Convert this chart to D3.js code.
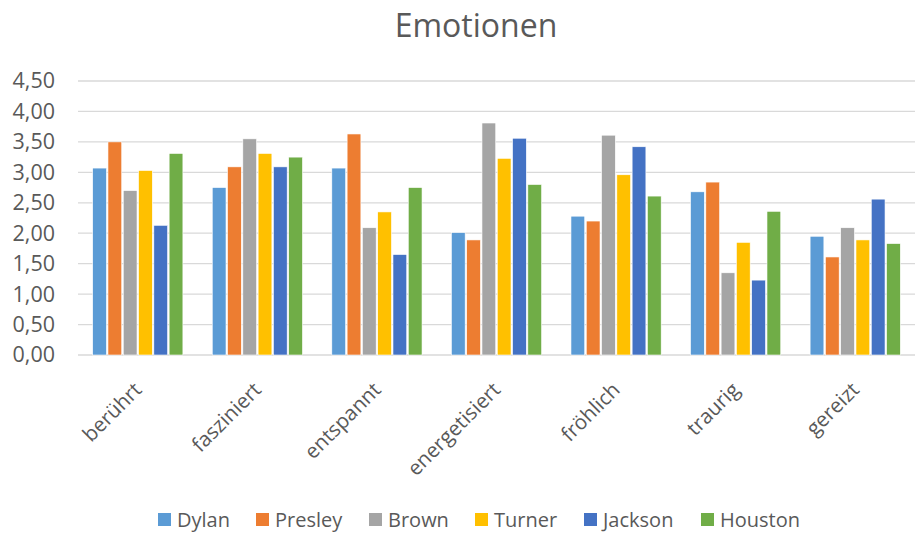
<!DOCTYPE html>
<html>
<head>
<meta charset="utf-8">
<script src="https://cdn.jsdelivr.net/npm/d3@7"></script>
<style>
  body { margin: 0; background: #fff; }
  text { font-family: "Open Sans", sans-serif; fill: #595959; }
</style>
</head>
<body>
<svg id="chart" width="919" height="533"></svg>
<script>
let categories = ["berührt", "fasziniert", "entspannt", "energetisiert", "fröhlich", "traurig", "gereizt"]
let seriesNames = ["Dylan", "Presley", "Brown", "Turner", "Jackson", "Houston"]
let colors = ["#5B9BD5", "#ED7D31", "#A5A5A5", "#FFC000", "#4472C4", "#70AD47"]

let dylan = [3.07, 2.75, 3.07, 2.01, 2.28, 2.68, 1.95]
let presley = [3.50, 3.09, 3.63, 1.89, 2.20, 2.84, 1.61]
let brown = [2.70, 3.55, 2.09, 3.81, 3.61, 1.35, 2.09]
let turner = [3.03, 3.31, 2.35, 3.23, 2.96, 1.85, 1.89]
let jackson = [2.13, 3.09, 1.65, 3.56, 3.42, 1.23, 2.56]
let houston = [3.31, 3.25, 2.75, 2.80, 2.61, 2.36, 1.83]
let yTicks = [0, 0.5, 1, 1.5, 2, 2.5, 3, 3.5, 4, 4.5]

let values = [dylan, presley, brown, turner, jackson, houston]

let svg = d3.select("#chart")

let x0 = d3.scaleBand().domain(categories).range([78, 915]).paddingInner(0.22).paddingOuter(0.11)
let x1 = d3.scaleBand().domain(seriesNames).range([0, x0.bandwidth()]).padding(0.1)
let y = d3.scaleLinear().domain([0, 4.5]).range([355, 81])

let fmt = d => d.toFixed(2).replace(".", ",")

// title
svg.append("text")
    .attr("x", 476)
    .attr("y", 37)
    .attr("text-anchor", "middle")
    .attr("font-size", 32)
    .text("Emotionen")

// gridlines
svg.append("g")
    .selectAll("line")
    .data(yTicks)
    .join("line")
    .attr("x1", 78)
    .attr("x2", 915)
    .attr("y1", d => y(d))
    .attr("y2", d => y(d))
    .attr("stroke", "#D9D9D9")
    .attr("stroke-width", 1.3)

// y axis
let axisL = d3.axisLeft(y)
    .tickValues(yTicks)
    .tickFormat(fmt)
    .tickSize(0)
    .tickPadding(0)

let gy = svg.append("g")
    .attr("transform", "translate(55,0)")
    .call(axisL)
gy.select(".domain").remove()
gy.selectAll("text")
    .attr("font-size", 21.5)
    .style("font-family", "'Open Sans', sans-serif")
    .attr("fill", "#595959")

// bars
svg.append("g")
    .selectAll("g")
    .data(values)
    .join("g")
    .attr("fill", (d, i) => colors[i])
    .selectAll("rect")
    .data((d, i) => d.map((v, j) => ({ s: seriesNames[i], c: categories[j], v: v })))
    .join("rect")
    .attr("x", d => x0(d.c) + x1(d.s))
    .attr("width", x1.bandwidth())
    .attr("y", d => y(d.v))
    .attr("height", d => y(0) - y(d.v))
    .attr("stroke", "#fff")
    .attr("stroke-width", 0.6)

// category labels
let axisB = d3.axisBottom(x0).tickSize(0).tickPadding(0)
let gx = svg.append("g")
    .attr("transform", "translate(0,367)")
    .call(axisB)
gx.select(".domain").remove()
gx.selectAll("text")
    .attr("font-size", 20.5)
    .style("font-family", "'Open Sans', sans-serif")
    .attr("fill", "#595959")
    .attr("text-anchor", "end")
    .attr("dy", "0.7em")
    .attr("transform", "translate(-5,14) rotate(-45)")

// legend
let legendX = [158, 256, 369, 475, 584, 701]
let legend = svg.append("g")
    .selectAll("g")
    .data(seriesNames)
    .join("g")
    .attr("transform", (d, i) => `translate(${legendX[i]},527)`)
legend.append("rect")
    .attr("x", 0)
    .attr("y", -14)
    .attr("width", 13)
    .attr("height", 13)
    .attr("fill", (d, i) => colors[i])
legend.append("text")
    .attr("x", 19)
    .attr("y", 0)
    .attr("font-size", 20)
    .text(d => d)
</script>
</body>
</html>
